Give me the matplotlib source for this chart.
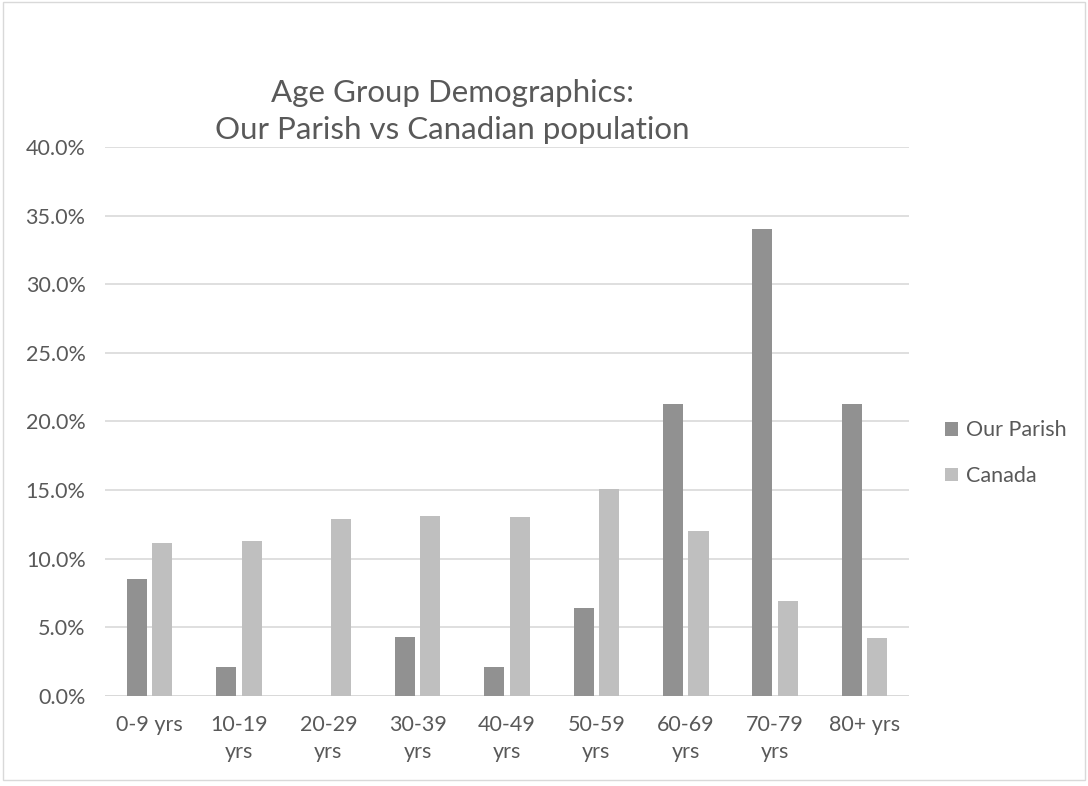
import matplotlib.pyplot as plt
import numpy as np
from matplotlib.patches import Rectangle
from matplotlib.ticker import FuncFormatter

plt.rcParams.update({'font.family': ['Lato', 'DejaVu Sans']})

# data (percent)
groups = ['0-9 yrs', '10-19\nyrs', '20-29\nyrs', '30-39\nyrs', '40-49\nyrs',
          '50-59\nyrs', '60-69\nyrs', '70-79\nyrs', '80+ yrs']
parish = [8.5, 2.1, 0.0, 4.3, 2.1, 6.4, 21.3, 34.0, 21.3]
canada = [11.1, 11.3, 12.9, 13.1, 13.0, 15.1, 12.0, 6.9, 4.2]

c_parish = '#919191'
c_canada = '#bfbfbf'
txt = '#595959'
grid = '#d9d9d9'

fig = plt.figure(figsize=(10.88, 7.86), dpi=100)
ax = fig.add_axes([0.0965, 0.1149, 0.739, 0.698])

x = np.arange(len(groups))
w = 0.225
ax.bar(x - 0.143, parish, w, color=c_parish, label='Our Parish', zorder=3)
ax.bar(x + 0.143, canada, w, color=c_canada, label='Canada', zorder=3)

ax.set_xlim(-0.5, len(groups) - 0.5)
ax.set_ylim(0, 40)
ax.set_yticks(np.arange(0, 41, 5))
ax.yaxis.set_major_formatter(FuncFormatter(lambda v, p: f'{v:.1f}%'))
ax.set_xticks(x)
ax.set_xticklabels(groups, va='top', linespacing=1.45)
ax.tick_params(axis='both', length=0, labelsize=15.5, colors=txt)
ax.tick_params(axis='x', pad=14)
ax.tick_params(axis='y', pad=14)
ax.grid(axis='y', color=grid, linewidth=1.2, zorder=0)
for s in ax.spines.values():
    s.set_visible(False)
ax.axhline(0, color=grid, linewidth=1.4, zorder=2)

fig.text(0.416, 0.858, 'Age Group Demographics:\nOur Parish vs Canadian population',
         ha='center', va='center', fontsize=22.5, color=txt, linespacing=1.36)

ax.legend(loc='center left', bbox_to_anchor=(1.021, 0.442), frameon=False,
          fontsize=15.5, labelcolor=txt, handlelength=0.6, handleheight=0.6,
          handletextpad=0.35, labelspacing=1.2)

# chart border
fig.patches.append(Rectangle((0.003, 0.008), 0.994, 0.989, transform=fig.transFigure,
                             fill=False, edgecolor=grid, linewidth=1))

fig.savefig('out.png', dpi=100)
